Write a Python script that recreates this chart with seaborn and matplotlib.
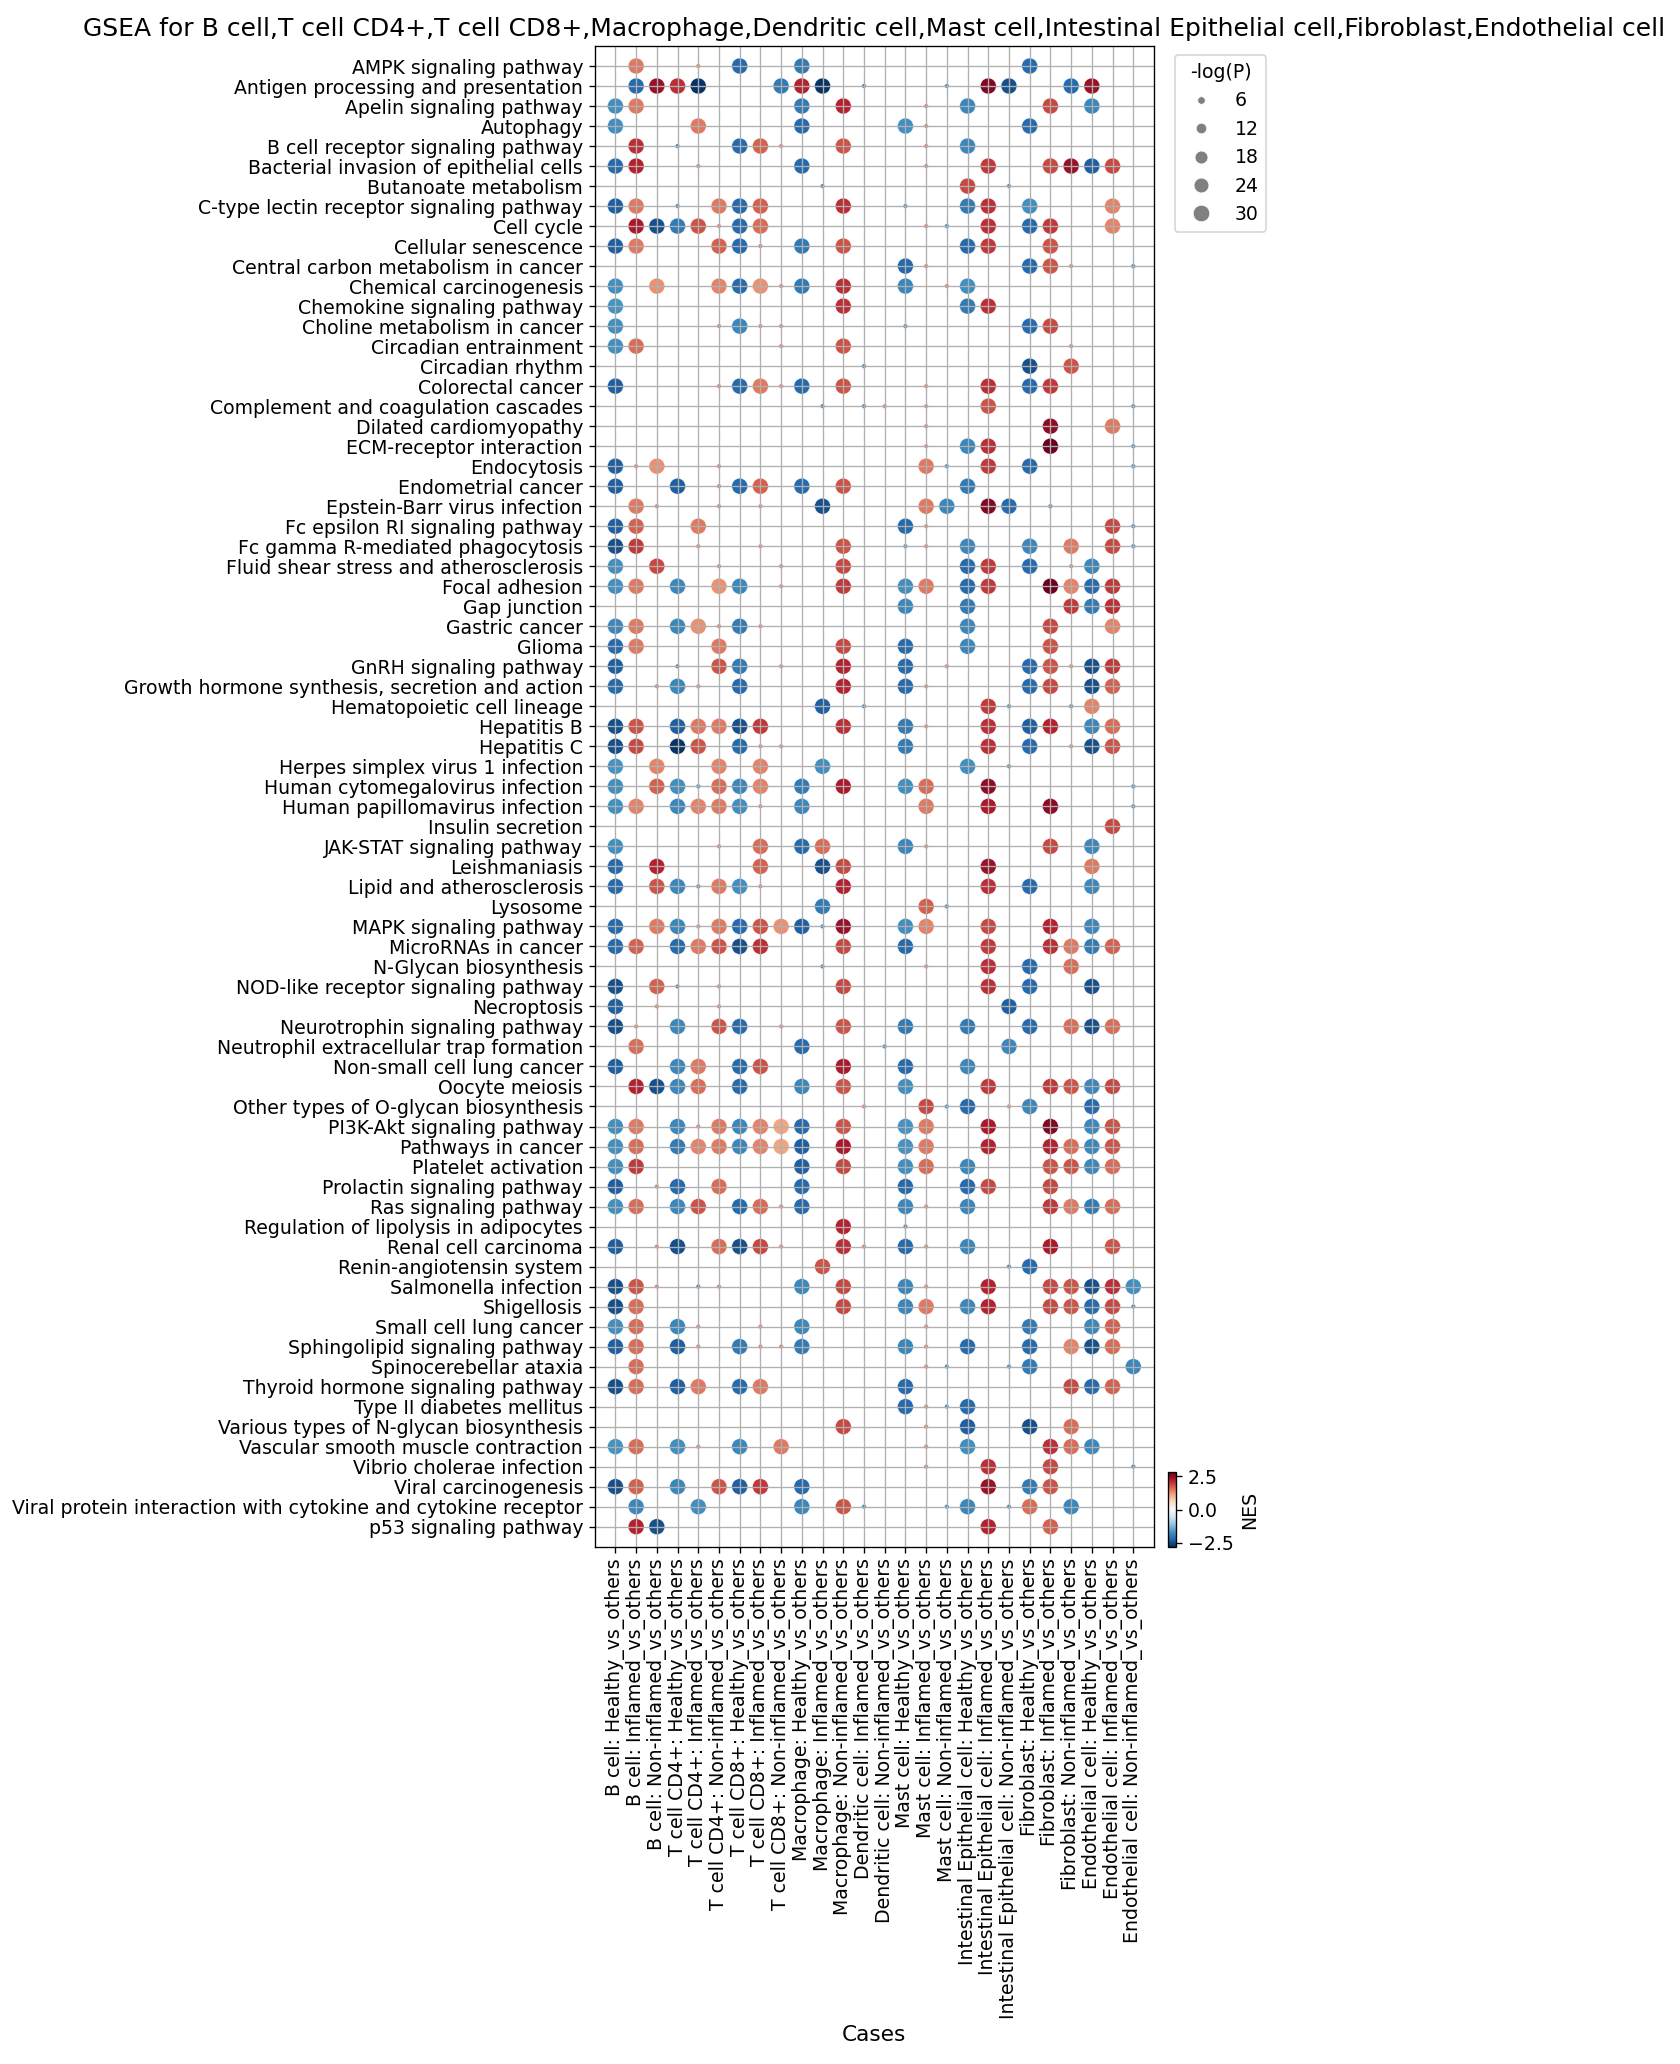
import numpy as np
import pandas as pd
import matplotlib
matplotlib.use("Agg")
import matplotlib.pyplot as plt
from matplotlib.lines import Line2D
import seaborn as sns

cell_types = ["B cell", "T cell CD4+", "T cell CD8+", "Macrophage", "Dendritic cell",
              "Mast cell", "Intestinal Epithelial cell", "Fibroblast", "Endothelial cell"]

cases = [
    "B cell: Healthy_vs_others", "B cell: Inflamed_vs_others", "B cell: Non-inflamed_vs_others",
    "T cell CD4+: Healthy_vs_others", "T cell CD4+: Inflamed_vs_others", "T cell CD4+: Non-inflamed_vs_others",
    "T cell CD8+: Healthy_vs_others", "T cell CD8+: Inflamed_vs_others", "T cell CD8+: Non-inflamed_vs_others",
    "Macrophage: Healthy_vs_others", "Macrophage: Inflamed_vs_others", "Macrophage: Non-inflamed_vs_others",
    "Dendritic cell: Inflamed_vs_others", "Dendritic cell: Non-inflamed_vs_others",
    "Mast cell: Healthy_vs_others", "Mast cell: Inflamed_vs_others", "Mast cell: Non-inflamed_vs_others",
    "Intestinal Epithelial cell: Healthy_vs_others", "Intestinal Epithelial cell: Inflamed_vs_others",
    "Intestinal Epithelial cell: Non-inflamed_vs_others",
    "Fibroblast: Healthy_vs_others", "Fibroblast: Inflamed_vs_others", "Fibroblast: Non-inflamed_vs_others",
    "Endothelial cell: Healthy_vs_others", "Endothelial cell: Inflamed_vs_others",
    "Endothelial cell: Non-inflamed_vs_others",
]

pathways = [
    "AMPK signaling pathway", "Antigen processing and presentation", "Apelin signaling pathway",
    "Autophagy", "B cell receptor signaling pathway", "Bacterial invasion of epithelial cells",
    "Butanoate metabolism", "C-type lectin receptor signaling pathway", "Cell cycle",
    "Cellular senescence", "Central carbon metabolism in cancer", "Chemical carcinogenesis",
    "Chemokine signaling pathway", "Choline metabolism in cancer", "Circadian entrainment",
    "Circadian rhythm", "Colorectal cancer", "Complement and coagulation cascades",
    "Dilated cardiomyopathy", "ECM-receptor interaction", "Endocytosis", "Endometrial cancer",
    "Epstein-Barr virus infection", "Fc epsilon RI signaling pathway", "Fc gamma R-mediated phagocytosis",
    "Fluid shear stress and atherosclerosis", "Focal adhesion", "Gap junction", "Gastric cancer",
    "Glioma", "GnRH signaling pathway", "Growth hormone synthesis, secretion and action",
    "Hematopoietic cell lineage", "Hepatitis B", "Hepatitis C", "Herpes simplex virus 1 infection",
    "Human cytomegalovirus infection", "Human papillomavirus infection", "Insulin secretion",
    "JAK-STAT signaling pathway", "Leishmaniasis", "Lipid and atherosclerosis", "Lysosome",
    "MAPK signaling pathway", "MicroRNAs in cancer", "N-Glycan biosynthesis",
    "NOD-like receptor signaling pathway", "Necroptosis", "Neurotrophin signaling pathway",
    "Neutrophil extracellular trap formation", "Non-small cell lung cancer", "Oocyte meiosis",
    "Other types of O-glycan biosynthesis", "PI3K-Akt signaling pathway", "Pathways in cancer",
    "Platelet activation", "Prolactin signaling pathway", "Ras signaling pathway",
    "Regulation of lipolysis in adipocytes", "Renal cell carcinoma", "Renin-angiotensin system",
    "Salmonella infection", "Shigellosis", "Small cell lung cancer", "Sphingolipid signaling pathway",
    "Spinocerebellar ataxia", "Thyroid hormone signaling pathway", "Type II diabetes mellitus",
    "Various types of N-glycan biosynthesis", "Vascular smooth muscle contraction",
    "Vibrio cholerae infection", "Viral carcinogenesis",
    "Viral protein interaction with cytokine and cytokine receptor", "p53 signaling pathway",
]

# NES of the strongly significant hits, one dict {case index: NES} per pathway
nes_big = [
    {1: 1.5, 6: -2.2, 9: -2.0, 20: -2.2},
    {1: -2.2, 2: 2.45, 3: 2.1, 4: -2.8, 8: -2.0, 9: 2.2, 10: -2.8, 18: 2.65, 19: -2.5, 22: -2.2, 23: 2.45},
    {0: -1.75, 1: 1.5, 9: -2.0, 11: 2.2, 17: -1.85, 21: 1.9, 23: -1.85},
    {0: -1.75, 4: 1.5, 9: -2.2, 14: -1.75, 20: -2.2},
    {1: 2.1, 6: -2.2, 7: 1.7, 11: 1.8, 17: -1.85},
    {0: -2.2, 1: 2.2, 9: -2.2, 18: 2.0, 21: 1.9, 22: 2.45, 23: -2.35, 24: 1.9},
    {17: 1.9},
    {0: -2.35, 1: 1.5, 5: 1.5, 6: -2.2, 7: 1.7, 11: 2.1, 17: -2.0, 18: 2.1, 20: -1.75, 24: 1.4},
    {1: 2.3, 2: -2.5, 3: -2.0, 4: 1.8, 6: -2.2, 7: 1.6, 18: 2.1, 20: -2.2, 21: 2.0, 24: 1.4},
    {0: -2.35, 1: 1.5, 5: 1.7, 6: -2.2, 9: -2.0, 11: 1.8, 17: -2.2, 18: 2.0, 21: 1.8},
    {14: -2.2, 20: -2.2, 21: 1.8},
    {0: -1.75, 2: 1.3, 5: 1.4, 6: -2.2, 7: 1.3, 9: -2.0, 11: 2.1, 14: -1.85, 17: -1.75},
    {0: -1.7, 11: 2.1, 17: -2.0, 18: 2.1},
    {0: -1.75, 6: -1.85, 20: -2.2, 21: 1.9},
    {0: -1.75, 1: 1.6, 11: 1.8},
    {20: -2.5, 22: 1.8},
    {0: -2.35, 6: -2.2, 7: 1.5, 9: -2.2, 11: 1.8, 18: 2.1, 20: -2.2, 21: 2.0},
    {18: 1.8},
    {21: 2.55, 24: 1.5},
    {17: -1.85, 18: 2.1, 21: 2.8},
    {0: -2.35, 2: 1.3, 15: 1.5, 18: 2.0, 20: -2.2},
    {0: -2.35, 3: -2.35, 6: -2.2, 7: 1.7, 9: -2.2, 11: 1.8, 17: -2.0},
    {1: 1.5, 10: -2.5, 15: 1.5, 16: -1.85, 18: 2.65, 19: -2.2},
    {0: -2.35, 1: 1.7, 4: 1.5, 14: -2.2, 24: 1.9},
    {0: -2.5, 1: 2.0, 11: 1.8, 17: -1.85, 20: -1.85, 22: 1.5, 24: 1.9},
    {0: -1.75, 2: 1.9, 11: 1.9, 17: -2.2, 18: 2.0, 20: -2.2, 23: -1.85},
    {0: -1.75, 1: 1.5, 3: -1.85, 5: 1.3, 6: -1.85, 11: 2.0, 14: -1.75, 15: 1.5, 17: -2.2, 18: 2.0,
     21: 2.8, 22: 1.4, 23: -2.2, 24: 2.0},
    {14: -1.85, 17: -2.0, 22: 2.0, 23: -2.0, 24: 2.1},
    {0: -1.85, 1: 1.5, 3: -1.85, 4: 1.3, 6: -2.0, 17: -1.85, 21: 1.9, 24: 1.4},
    {0: -2.2, 1: 1.5, 5: 1.5, 11: 1.9, 14: -2.2, 17: -1.85, 21: 1.8},
    {0: -2.35, 5: 1.8, 6: -2.0, 11: 2.2, 14: -2.2, 20: -2.2, 21: 1.8, 23: -2.5, 24: 2.0},
    {0: -2.2, 3: -1.85, 6: -2.2, 11: 2.2, 14: -2.2, 20: -2.2, 21: 1.9, 23: -2.5, 24: 1.7},
    {10: -2.35, 18: 2.0, 23: 1.4},
    {0: -2.5, 1: 1.8, 3: -2.35, 4: 1.5, 5: 1.5, 6: -2.5, 7: 2.0, 11: 2.1, 14: -2.0, 18: 2.1, 20: -2.35,
     21: 2.2, 23: -1.85, 24: 1.6},
    {0: -2.5, 1: 1.9, 3: -2.8, 4: 1.8, 6: -2.2, 14: -2.0, 18: 2.1, 20: -2.2, 23: -2.5, 24: 1.8},
    {0: -1.7, 2: 1.4, 5: 1.4, 7: 1.4, 10: -1.75, 17: -1.75},
    {0: -1.75, 2: 1.7, 3: -1.75, 5: 1.6, 6: -1.85, 7: 1.4, 9: -2.0, 11: 2.3, 14: -1.75, 15: 1.6, 18: 2.55},
    {0: -1.75, 1: 1.4, 3: -1.85, 4: 1.4, 5: 1.5, 6: -1.75, 9: -1.85, 15: 1.5, 18: 2.3, 21: 2.55},
    {24: 1.9},
    {0: -1.75, 7: 1.6, 9: -2.2, 10: 1.6, 14: -1.85, 21: 1.9, 23: -1.85},
    {0: -2.2, 2: 2.2, 7: 1.7, 10: -2.5, 11: 1.9, 18: 2.45, 23: 1.5},
    {0: -2.2, 2: 1.8, 3: -1.85, 5: 1.5, 6: -1.75, 11: 2.2, 18: 2.1, 20: -2.2, 23: -1.85},
    {10: -2.0, 15: 1.7},
    {0: -2.2, 2: 1.5, 3: -1.85, 5: 1.5, 6: -2.2, 7: 1.8, 8: 1.3, 9: -2.35, 11: 2.45, 14: -1.75, 15: 1.4,
     18: 1.9, 21: 2.2, 23: -1.85},
    {0: -2.2, 1: 1.7, 3: -2.2, 4: 1.5, 5: 1.8, 6: -2.5, 7: 2.1, 11: 1.9, 14: -2.2, 18: 2.0, 21: 2.1,
     22: 1.5, 23: -2.0, 24: 1.7},
    {18: 2.1, 20: -2.2, 22: 1.6},
    {0: -2.5, 2: 1.7, 11: 1.9, 18: 2.1, 20: -2.2, 23: -2.5},
    {0: -2.35, 19: -2.35},
    {0: -2.5, 3: -1.85, 5: 1.8, 6: -2.2, 11: 1.8, 14: -2.0, 17: -2.0, 20: -2.2, 22: 1.6, 23: -2.5, 24: 1.6},
    {1: 1.6, 9: -2.2, 19: -1.85},
    {0: -2.35, 3: -1.85, 4: 1.5, 6: -2.2, 7: 1.8, 11: 2.3, 14: -2.2, 17: -1.85},
    {1: 2.2, 2: -2.5, 3: -1.85, 4: 1.6, 6: -2.2, 9: -1.85, 11: 1.8, 14: -1.75, 18: 2.0, 21: 2.0, 22: 1.8,
     23: -1.85, 24: 1.9},
    {15: 1.9, 17: -2.2, 20: -1.85, 23: -2.2},
    {0: -1.75, 1: 1.5, 3: -1.85, 5: 1.5, 6: -1.85, 7: 1.4, 8: 1.15, 9: -2.2, 11: 1.8, 14: -1.7, 15: 1.5,
     18: 2.3, 21: 2.65, 23: -1.85, 24: 1.8},
    {0: -1.75, 1: 1.6, 3: -2.0, 4: 1.4, 5: 1.5, 6: -1.85, 7: 1.4, 8: 1.15, 9: -2.35, 11: 2.3, 14: -1.7,
     15: 1.5, 18: 2.2, 21: 2.2, 22: 1.6, 23: -1.85, 24: 1.8},
    {0: -1.75, 1: 2.0, 9: -2.35, 11: 1.9, 14: -1.75, 15: 1.6, 17: -1.85, 21: 1.8, 22: 1.8, 23: -1.85, 24: 1.6},
    {0: -2.35, 3: -2.2, 5: 1.6, 9: -2.2, 14: -2.2, 17: -2.2, 18: 1.9, 21: 1.9},
    {0: -1.75, 1: 1.6, 3: -1.85, 4: 1.8, 6: -2.2, 7: 1.6, 9: -2.2, 14: -1.85, 17: -1.85, 21: 2.0, 22: 1.5,
     23: -2.0, 24: 1.6},
    {11: 2.2},
    {0: -2.35, 3: -2.5, 5: 1.6, 6: -2.5, 7: 1.9, 11: 2.1, 14: -2.2, 17: -1.85, 21: 2.3, 24: 1.8},
    {10: 1.8, 20: -2.2},
    {0: -2.5, 1: 1.8, 9: -1.85, 11: 1.9, 14: -1.85, 18: 2.2, 21: 1.9, 22: 1.8, 23: -2.5, 24: 2.1, 25: -1.75},
    {0: -2.5, 1: 1.6, 11: 1.9, 14: -1.85, 15: 1.5, 17: -1.85, 18: 2.2, 21: 1.9, 22: 1.8, 23: -2.2, 24: 1.9},
    {0: -1.75, 1: 1.6, 3: -1.85, 9: -1.85, 20: -2.0, 23: -1.85, 24: 1.7},
    {0: -2.35, 1: 1.6, 3: -2.35, 6: -2.0, 9: -2.0, 14: -1.85, 17: -2.2, 20: -2.2, 22: 1.4, 23: -2.5, 24: 1.6},
    {1: 1.6, 20: -2.0, 25: -1.85},
    {0: -2.5, 1: 1.6, 3: -2.35, 4: 1.5, 6: -2.2, 7: 1.5, 14: -2.2, 22: 1.9, 23: -2.2, 24: 1.7},
    {14: -2.2, 17: -2.2},
    {11: 1.9, 17: -2.35, 20: -2.5, 22: 1.6},
    {0: -1.7, 1: 1.6, 3: -1.75, 6: -1.85, 8: 1.5, 17: -1.75, 21: 2.1, 22: 1.6, 23: -1.85},
    {18: 2.1, 21: 1.9},
    {0: -2.5, 1: 1.7, 3: -1.85, 5: 1.8, 6: -2.35, 7: 2.0, 9: -2.2, 18: 2.45, 20: -2.0, 21: 1.8},
    {1: -1.85, 4: -1.75, 9: -1.85, 11: 1.8, 17: -1.85, 20: 1.6, 22: -1.85},
    {1: 2.2, 2: -2.5, 18: 2.2, 21: 1.7},
]

# NES of the weak hits (tiny dots)
nes_small = [
    {4: 1.4}, {12: -1.85, 16: -1.85}, {15: 1.4}, {15: 1.4}, {3: -1.85, 8: 1.4, 15: 1.4},
    {4: 1.4, 15: 1.4}, {10: -1.85, 19: -1.85}, {3: -1.85, 14: -1.85}, {5: 1.4, 15: 1.4, 16: -1.85},
    {7: 1.5}, {15: 1.4, 22: 1.4, 25: -1.85}, {8: 1.4, 16: 1.4}, {},
    {5: 1.4, 7: 1.4, 8: 1.4, 14: -1.85}, {8: 1.4, 22: 1.4}, {12: -1.85}, {5: 1.4, 8: 1.4, 15: 1.4},
    {10: -1.85, 12: -1.85, 13: 1.4, 15: 1.4, 25: -1.85}, {15: 1.4}, {15: 1.4, 25: -1.85},
    {1: 1.4, 5: 1.4, 16: -1.85, 25: -1.85}, {5: 1.4}, {2: 1.4, 5: 1.4, 7: 1.4, 21: -1.85},
    {15: 1.4, 25: -1.85}, {4: 1.4, 7: 1.4, 14: -1.85, 15: 1.4, 25: -1.85}, {5: 1.4, 8: 1.4, 22: 1.4},
    {8: 1.4}, {}, {5: 1.4, 7: 1.4}, {}, {3: -1.85, 8: 1.4, 16: 1.4, 22: 1.4}, {2: 1.4, 4: 1.4, 15: 1.4},
    {12: -1.85, 19: -1.85, 22: -1.85}, {15: 1.4}, {7: 1.4, 8: 1.4, 22: 1.4}, {19: -1.85},
    {4: -1.85, 25: -1.85}, {7: 1.4, 25: -1.85}, {}, {5: 1.4, 15: 1.4}, {}, {4: -1.85, 7: 1.4},
    {16: -1.85}, {4: 1.4, 10: -1.85}, {}, {10: -1.85, 15: 1.4}, {3: -1.85, 5: 1.4}, {2: 1.4, 5: 1.4},
    {1: 1.4, 8: 1.4}, {13: -1.85}, {}, {}, {12: 1.4, 16: -1.85, 19: 1.4}, {4: 1.4}, {}, {}, {2: 1.4},
    {8: 1.4, 15: 1.4}, {14: -1.85}, {2: 1.4, 8: 1.4, 12: 1.4, 15: 1.4}, {19: -1.85},
    {2: 1.4, 4: -1.85, 5: 1.4, 15: 1.4}, {25: -1.85}, {4: 1.4, 7: 1.4, 15: 1.4},
    {4: 1.4, 7: 1.4, 8: 1.4, 15: 1.4}, {15: 1.4, 16: -1.85, 19: -1.85}, {}, {15: 1.4, 16: -1.85},
    {15: 1.4}, {4: 1.4, 15: 1.4}, {15: 1.4, 25: -1.85}, {}, {12: -1.85, 16: -1.85, 19: -1.85}, {},
]

logp_big = 27
logp_small = 1.8
nes_lim = 2.84
legend_vals = [6, 12, 18, 24, 30]

rows = []
for i, pw in enumerate(pathways):
    for j, v in nes_big[i].items():
        rows.append((pw, i, j, v, logp_big))
    for j, v in nes_small[i].items():
        rows.append((pw, i, j, v, logp_small))
df = pd.DataFrame(rows, columns=["pathway", "y", "x", "NES", "-log(P)"])

size_range = (1.5, 100)
size_norm = (0, 30)
fs = 11.3

fig = plt.figure(figsize=(14, 17.2), dpi=120)
ax = fig.add_axes([594.7 / 1680, 1 - 1546.7 / 2064, 559.3 / 1680, 1500.7 / 2064])

sns.scatterplot(data=df, x="x", y="y", hue="NES", size="-log(P)", palette="RdBu_r",
                hue_norm=(-nes_lim, nes_lim), sizes=size_range, size_norm=size_norm,
                legend=False, ax=ax)

ax.set_xlim(-1, len(cases))
ax.set_ylim(len(pathways), -1)
ax.set_xticks(range(len(cases)))
ax.set_xticklabels(cases, rotation=90, fontsize=fs)
ax.set_yticks(range(len(pathways)))
ax.set_yticklabels(pathways, fontsize=fs)
ax.grid(True)
ax.set_xlabel("Cases", fontsize=13)
ax.set_ylabel("")
ax.set_title("GSEA for " + ",".join(cell_types), fontsize=15)

# size legend
handles = []
for v in legend_vals:
    s = size_range[0] + (v - size_norm[0]) / (size_norm[1] - size_norm[0]) * (size_range[1] - size_range[0])
    handles.append(Line2D([], [], marker="o", linestyle="", markersize=np.sqrt(s),
                          color="gray", markeredgecolor="white", markeredgewidth=0.5))
ax.legend(handles, [str(v) for v in legend_vals], title="-log(P)", fontsize=fs, title_fontsize=fs,
          bbox_to_anchor=(1.02, 1), loc="upper left")

# colorbar
cax = fig.add_axes([1168 / 1680, 1 - 1547 / 2064, 8 / 1680, 75 / 2064])
sm = plt.cm.ScalarMappable(norm=plt.Normalize(-nes_lim, nes_lim), cmap="RdBu_r")
cb = fig.colorbar(sm, cax=cax, ticks=[-2.5, 0, 2.5])
cb.ax.tick_params(labelsize=fs)
cb.set_label("NES", fontsize=fs)

fig.savefig("out.png", dpi=120)
